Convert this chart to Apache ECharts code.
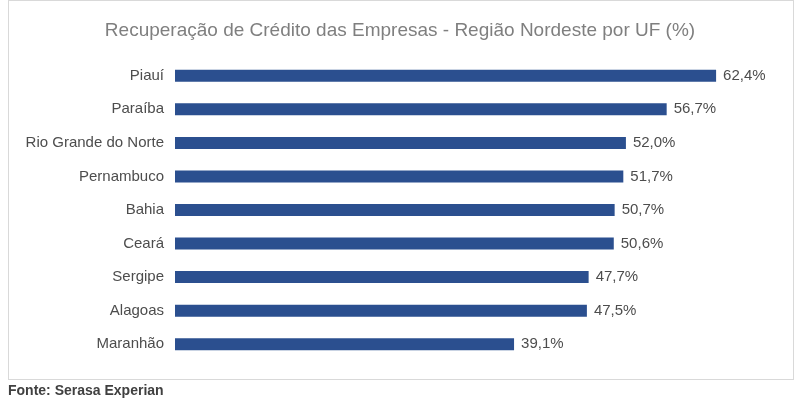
<!DOCTYPE html>
<html>
<head>
  <meta charset="utf-8">
  <script src="https://cdn.jsdelivr.net/npm/echarts@6/dist/echarts.min.js"></script>
  <style>
    body { margin: 0; background: #fff; }
    #frame { position: absolute; left: 8px; top: 0; width: 786px; height: 380px; border: 1px solid #d9d9d9; box-sizing: border-box; }
    #chart { width: 800px; height: 414px; }
    #fonte { position: absolute; left: 8px; top: 382px; font: bold 14px "Liberation Sans", Arial, sans-serif; color: #404040; }
  </style>
</head>
<body>
  <div id="frame"></div>
  <div id="chart"></div>
  <div id="fonte">Fonte: Serasa Experian</div>
  <script>
    var estados = ['Piauí', 'Paraíba', 'Rio Grande do Norte', 'Pernambuco', 'Bahia', 'Ceará', 'Sergipe', 'Alagoas', 'Maranhão'];
    var valores = [62.4, 56.7, 52.0, 51.7, 50.7, 50.6, 47.7, 47.5, 39.1];

    var myChart = echarts.init(document.getElementById('chart'));
    myChart.setOption({
      animation: false,
      title: {
        text: 'Recuperação de Crédito das Empresas - Região Nordeste por UF (%)',
        left: 'center',
        top: 16,
        textStyle: { color: '#7f7f7f', fontSize: 19, fontWeight: 'normal', fontFamily: 'Liberation Sans' }
      },
      grid: { left: 175, right: 18, top: 59, bottom: 53 },
      xAxis: { type: 'value', min: 0, max: 70, show: false },
      yAxis: {
        type: 'category',
        inverse: true,
        data: estados,
        axisLine: { show: false },
        axisTick: { show: false },
        axisLabel: { color: '#4d4d4d', fontSize: 15, fontFamily: 'Liberation Sans', margin: 11 }
      },
      series: [{
        type: 'bar',
        data: valores,
        barWidth: 12,
        itemStyle: { color: '#2b4f8f' },
        label: {
          show: true,
          position: 'right',
          distance: 7,
          color: '#4d4d4d',
          fontSize: 15,
          fontFamily: 'Liberation Sans',
          formatter: function (p) { return p.value.toFixed(1).replace('.', ',') + '%'; }
        }
      }]
    });
  </script>
</body>
</html>
